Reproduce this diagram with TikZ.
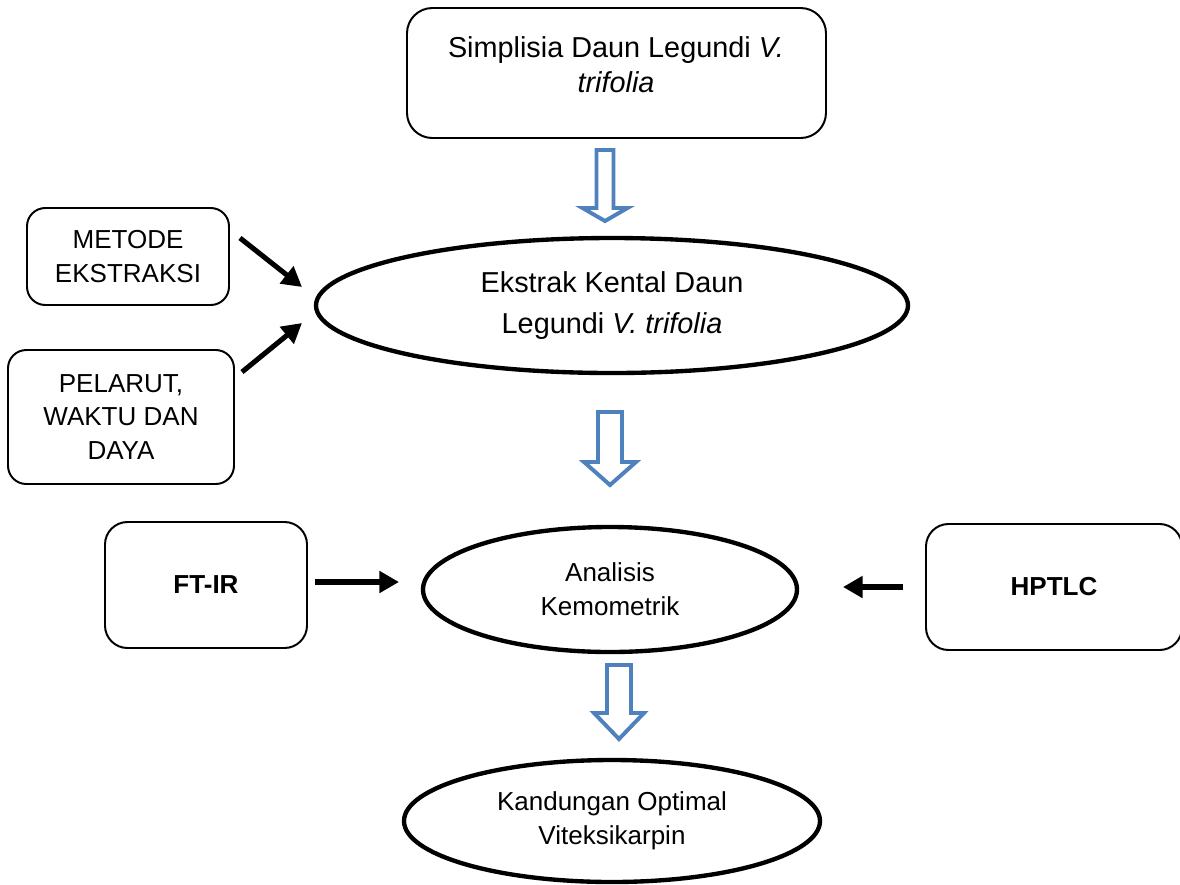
\documentclass[tikz,border=0pt]{standalone}
\usepackage{fontspec}
\setmainfont{Liberation Sans}
\usetikzlibrary{shapes.geometric,arrows.meta}
\definecolor{officeblue}{HTML}{4F81BD}
\tikzset{
  rbox/.style={draw=black, line width=1.4pt, rounded corners=#1, inner sep=0pt, align=center},
  ell/.style={draw=black, ellipse, line width=3.1pt, inner sep=0pt, align=center},
  bigtxt/.style={font=\fontsize{20.5}{25}\selectfont},
  midtxt/.style={font=\fontsize{18.5}{24}\selectfont},
  blk/.style={line width=3.6pt, -{Triangle[length=14pt,width=15pt]}, shorten >=0pt},
  blockarr/.style={draw=officeblue, line width=2.8pt, fill=white, line join=miter}
}
\newcommand{\blockarrow}[6]{% cx, top, headtop, tip, shafthalf, headhalf
  \draw[blockarr] ({#1-#5},#2) -- ({#1+#5},#2) -- ({#1+#5},#3) -- ({#1+#6},#3)
    -- (#1,#4) -- ({#1-#6},#3) -- ({#1-#5},#3) -- cycle;
}
\begin{document}
\begin{tikzpicture}[x=0.025cm, y=-0.025cm]
\useasboundingbox (0,0) rectangle (1180,884);

% top box
\node[rbox=18pt, minimum width={419*0.025cm}, minimum height={130*0.025cm}] (simp) at (616.5,73) {};
\node[bigtxt, align=center] (simptxt) at (616,64.5) {Simplisia Daun Legundi \textit{V.}\\ \textit{trifolia}};

% ellipse 1
\node[ell, bigtxt, minimum width={592*0.025cm}, minimum height={135*0.025cm}] (ekstrak) at (612,305.5)
  {Ekstrak Kental Daun\\[4pt] Legundi \textit{V. trifolia}};

% left boxes
\node[rbox=13pt, midtxt, minimum width={202*0.025cm}, minimum height={97*0.025cm}] (metode) at (128,256.5)
  {METODE\\ EKSTRAKSI};
\node[rbox=13pt, midtxt, minimum width={226*0.025cm}, minimum height={134*0.025cm}] (pelarut) at (121,417)
  {PELARUT,\\ WAKTU DAN\\ DAYA};

% ellipse 2
\node[ell, midtxt, minimum width={374*0.025cm}, minimum height={125*0.025cm}] (analisis) at (610,589.5)
  {Analisis\\ Kemometrik};

% side boxes
\node[rbox=16pt, font=\fontsize{18.5}{24}\selectfont\bfseries, minimum width={202*0.025cm}, minimum height={126*0.025cm}] (ftir) at (206,585) {FT-IR};
\node[rbox=16pt, font=\fontsize{18.5}{24}\selectfont\bfseries, minimum width={256*0.025cm}, minimum height={126*0.025cm}] (hptlc) at (1054,587) {HPTLC};

% ellipse 3
\node[ell, midtxt, minimum width={416*0.025cm}, minimum height={122*0.025cm}] (kandungan) at (612,821)
  {Kandungan Optimal\\ Viteksikarpin};

% black arrows
\coordinate (a1s) at (240,238);
\coordinate (a1e) at (302,287);
\coordinate (a2s) at (242,372);
\coordinate (a2e) at (302,323);
\coordinate (a3s) at (315,582);
\coordinate (a3e) at (399,582);
\coordinate (a4s) at (903,587);
\coordinate (a4e) at (843,587);
\draw[blk] (a1s) -- (a1e);
\draw[blk] (a2s) -- (a2e);
\draw[blk] (a3s) -- (a3e);
\draw[blk] (a4s) -- (a4e);

% blue block arrows
\blockarrow{605}{150}{208}{221}{8.5}{22.5}
\blockarrow{610}{412}{462}{485}{12}{26}
\blockarrow{619}{665}{713}{739}{12}{25}
\end{tikzpicture}
\end{document}
